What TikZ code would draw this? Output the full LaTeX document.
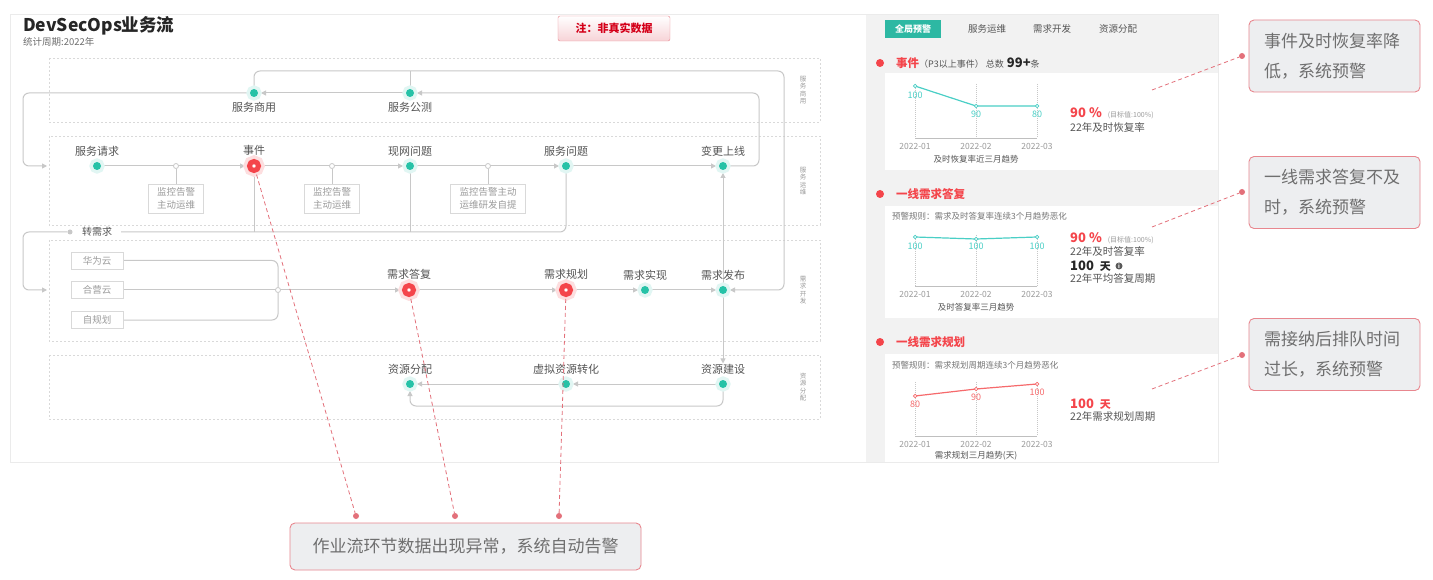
\documentclass[tikz,border=0pt]{standalone}
\usepackage{fontspec}
\setmainfont{Noto Sans CJK SC}
\usetikzlibrary{positioning,arrows.meta,backgrounds}

\definecolor{flowteal}{HTML}{26C2A7}
\definecolor{alarm}{HTML}{F4454B}
\definecolor{wire}{HTML}{C8C8C8}
\definecolor{lanec}{HTML}{D9D9D9}
\definecolor{txt}{HTML}{555555}
\definecolor{soft}{HTML}{9B9B9B}
\definecolor{panel}{HTML}{F2F2F2}
\definecolor{warnedge}{HTML}{E8878F}
\definecolor{warnfill}{HTML}{EDEEF0}
\definecolor{warntext}{HTML}{6F6F6F}
\definecolor{pinred}{HTML}{E3707A}
\definecolor{lineteal}{HTML}{4ACFC6}
\definecolor{linered}{HTML}{F66A6C}
\definecolor{tabteal}{HTML}{2DB8A3}
\definecolor{notered}{HTML}{D40019}
\definecolor{notepink}{HTML}{F7D3D7}

\begin{document}
\begin{tikzpicture}[x=1pt,y=-1pt]
    \newcommand{\fsz}[2]{\fontsize{#1}{#2}\selectfont}
    \newcommand{\hot}[1]{\textcolor{alarm}{#1}}

    \tikzstyle{lane}=[draw=lanec, dash pattern=on 2pt off 2pt, line width=0.6pt]
    \tikzstyle{lanetag}=[font=\fsz{6.5}{7.5}, text=soft, align=center, inner sep=0pt]
    \tikzstyle{dot}=[
      circle,
      inner sep=0pt,
      minimum size=8pt,
      outer sep=3pt,
      fill=flowteal,
      preaction={draw=flowteal!14, line width=7pt},
    ]
    \tikzstyle{alarmdot}=[
      circle,
      inner sep=0pt,
      minimum size=9pt,
      outer sep=4.5pt,
      fill=white,
      draw=alarm,
      line width=5pt,
      preaction={draw=alarm!18, line width=12pt},
    ]
    \tikzstyle{lbl}=[font=\fsz{11}{11}, text=txt, inner sep=1pt]
    \tikzstyle{note}=[
      draw=lanec,
      fill=white,
      font=\fsz{9.5}{12.5},
      text=soft,
      align=center,
      minimum width=55pt,
      minimum height=29pt,
      inner sep=2pt,
      line width=0.6pt,
    ]
    \tikzstyle{src}=[draw=lanec, fill=white, font=\fsz{9.5}{9.5}, text=soft,
      minimum width=52pt, minimum height=17pt, inner sep=0pt, line width=0.6pt]
    \tikzstyle{joint}=[circle, fill=white, draw=wire, line width=0.8pt, inner sep=0pt, minimum size=5pt]
    \tikzstyle{tinydot}=[circle, fill=wire, inner sep=0pt, minimum size=5pt]
    \tikzstyle{flow}=[draw=wire, line width=1pt, rounded corners=6pt, -{Triangle[width=5pt,length=5pt]}]
    \tikzstyle{wirel}=[draw=wire, line width=1pt, rounded corners=6pt]
    \tikzstyle{pinline}=[draw=pinred, line width=0.8pt, dash pattern=on 4pt off 3pt]
    \tikzstyle{pinpt}=[circle, fill=pinred, inner sep=0pt, minimum size=6pt]
    \tikzstyle{warnbox}=[draw=warnedge, fill=warnfill, rounded corners=5pt, line width=0.9pt,
      text=warntext, font=\fsz{17}{30}]

    % right panel
    \tikzstyle{tabtxt}=[font=\fsz{9.5}{9.5}, text=txt]
    \tikzstyle{hdot}=[circle, fill=alarm, inner sep=0pt, minimum size=8pt]
    \tikzstyle{sechead}=[anchor=west, inner sep=0pt, font=\fsz{11.5}{11.5}\bfseries, text=alarm]
    \tikzstyle{rulet}=[anchor=west, inner sep=0pt, font=\fsz{8.5}{8.5}, text=txt!80]
    \tikzstyle{gridl}=[draw=black!22, dash pattern=on 1pt off 1pt, line width=0.6pt]
    \tikzstyle{axisl}=[draw=black!25, line width=0.8pt]
    \tikzstyle{axlbl}=[font=\fsz{8.5}{8.5}, text=black!40]
    \tikzstyle{capt}=[font=\fsz{8.5}{8.5}, text=txt]
    \tikzstyle{mk}=[circle, fill=white, inner sep=0pt, minimum size=3.5pt, line width=0.7pt]
    \tikzstyle{val}=[font=\fsz{9}{9}]
    \tikzstyle{bigt}=[anchor=west, inner sep=0pt]
    \tikzstyle{subt}=[anchor=west, inner sep=0pt, font=\fsz{10.5}{10.5}, text=txt]

    \useasboundingbox (0,0) rectangle (1433,580);

    \begin{scope}[on background layer]
      \fill[white] (0,0) rectangle (1433,580);
      \fill[panel] (866,14) rectangle (1218,462);
      \draw[black!8, line width=0.6pt] (10,14) rectangle (1218,462);
      \fill[white] (885,73) rectangle (1218,170);
      \fill[white] (885,206) rectangle (1218,318);
      \fill[white] (885,354) rectangle (1218,462);
      \draw[lane] (49,58) rectangle (820,122);
      \draw[lane] (49,136) rectangle (820,225);
      \draw[lane] (49,240) rectangle (820,341);
      \draw[lane] (49,355) rectangle (820,419);
    \end{scope}

    % title
    \node[anchor=west, inner sep=0pt, font=\fsz{17.5}{17.5}\bfseries, text=black!85] (title) at (23,26) {DevSecOps业务流};
    \node[anchor=west, inner sep=0pt, font=\fsz{9.5}{9.5}, text=txt!85] (period) at (23,42) {统计周期:2022年};
    \node[draw=warnedge, top color=white, bottom color=notepink, rounded corners=2pt,
      minimum width=112pt, minimum height=25pt, font=\fsz{11}{11}\bfseries, text=notered] (fake) at (614,28.5) {注：非真实数据};

    % lane tags
    \node[lanetag] (lt1) at (803,90) {服\\务\\商\\用};
    \node[lanetag] (lt2) at (803,181) {服\\务\\运\\维};
    \node[lanetag] (lt3) at (803,290) {需\\求\\开\\发};
    \node[lanetag] (lt4) at (803,387) {资\\源\\分\\配};

    % lane 1
    \node[dot] (sy) at (254,93) {};
    \node[dot] (gc) at (410,93) {};
    \node[lbl, below=1pt of sy] (syl) {服务商用};
    \node[lbl, below=1pt of gc] (gcl) {服务公测};

    % lane 2
    \node[dot] (qq) at (97,166) {};
    \node[alarmdot] (sj) at (254,166) {};
    \node[dot] (xw) at (410,166) {};
    \node[dot] (fw) at (566,166) {};
    \node[dot] (bx) at (723,166) {};
    \node[lbl, above=1pt of qq] (qql) {服务请求};
    \node[lbl, above=0pt of sj] (sjl) {事件};
    \node[lbl, above=1pt of xw] (xwl) {现网问题};
    \node[lbl, above=1pt of fw] (fwl) {服务问题};
    \node[lbl, above=1pt of bx] (bxl) {变更上线};

    \node[joint] (j1) at (176,166) {};
    \node[joint] (j2) at (332,166) {};
    \node[joint] (j3) at (488,166) {};
    \node[note] (m1) at (176,198.5) {监控告警\\主动运维};
    \node[note] (m2) at (332,198.5) {监控告警\\主动运维};
    \node[note, minimum width=75pt] (m3) at (488,198.5) {监控告警主动\\运维研发自提};

    \node[lbl, font=\fsz{10}{10}, inner xsep=9pt] (zx) at (97,232) {转需求};
    \node[tinydot] (zxd) at (70,232) {};

    % lane 3
    \node[src] (hw) at (97,260.5) {华为云};
    \node[src] (hy) at (97,290) {合营云};
    \node[src] (zg) at (97,320) {自规划};
    \node[joint] (j4) at (278,290) {};
    \node[alarmdot] (df) at (409,290) {};
    \node[alarmdot] (gh) at (566,290) {};
    \node[dot] (sx) at (645,290) {};
    \node[dot] (fb) at (723,290) {};
    \node[lbl, above=0pt of df] (dfl) {需求答复};
    \node[lbl, above=0pt of gh] (ghl) {需求规划};
    \node[lbl, above=1pt of sx] (sxl) {需求实现};
    \node[lbl, above=1pt of fb] (fbl) {需求发布};

    % lane 4
    \node[dot] (fp) at (410,384) {};
    \node[dot] (xn) at (566,384) {};
    \node[dot] (js) at (723,384) {};
    \node[lbl, above=1pt of fp] (fpl) {资源分配};
    \node[lbl, above=1pt of xn] (xnl) {虚拟资源转化};
    \node[lbl, above=1pt of js] (jsl) {资源建设};

    \coordinate (in2) at (47,166);
    \coordinate (in3) at (47,290);
    \coordinate (top) at (0,71);

    \begin{scope}[on background layer]
      \draw[flow] (gc) -- (sy);
      \draw[flow] (sy) -- (23,93) |- (in2);
      \draw[flow] (sy) -- (sy |- top) -- (784,71) |- (fb);
      \draw[wirel] (gc) -- (gc |- top);
      \draw[flow] (bx) -- ++(36,0) |- (gc);
      \draw[flow] (qq) -- (sj);
      \draw[flow] (sj) -- (xw);
      \draw[flow] (xw) -- (fw);
      \draw[flow] (fw) -- (bx);
      \draw[wirel] (j1) -- (m1);
      \draw[wirel] (j2) -- (m2);
      \draw[wirel] (j3) -- (m3);
      \draw[wirel] (sj) -- (sj |- zx);
      \draw[wirel] (xw) -- (xw |- zx);
      \draw[wirel] (fw) |- (zx);
      \draw[flow] (zxd) -- (23,232) |- (in3);
      \draw[wirel] (hw) -| (j4);
      \draw[wirel] (zg) -| (j4);
      \draw[flow] (hy) -- (df);
      \draw[flow] (df) -- (gh);
      \draw[flow] (gh) -- (sx);
      \draw[flow] (sx) -- (fb);
      \draw[flow] (fb) -- (bx);
      \draw[flow] (fb) -- (jsl);
      \draw[flow] (js) -- (xn);
      \draw[flow] (xn) -- (fp);
      \draw[flow] (js) -- ++(0,22) -| (fp);
    \end{scope}

    % bottom callout
    \node[warnbox, minimum width=351pt, minimum height=47pt] (cb) at (465.5,546.5) {作业流环节数据出现异常，系统自动告警};
    \node[pinpt] (d1) at (356,516) {};
    \node[pinpt] (d2) at (455,516) {};
    \node[pinpt] (d3) at (559,516) {};
    \draw[pinline] (sj) -- (d1);
    \draw[pinline] (df) -- (d2);
    \draw[pinline] (gh) -- (d3);

    % right panel
    \node[fill=tabteal, text=white, font=\fsz{9}{9}\bfseries, minimum width=56pt, minimum height=18pt, inner sep=0pt] (tab1) at (913,29) {全局预警};
    \node[tabtxt] (tab2) at (987,29) {服务运维};
    \node[tabtxt] (tab3) at (1052,29) {需求开发};
    \node[tabtxt] (tab4) at (1118,29) {资源分配};

    \node[hdot] (hd1) at (880,63) {};
    \node[sechead] (hs1) at (896,63) {事件\mdseries\fsz{9}{9}\color{txt}（P3以上事件） 总数\hspace{3pt}{\bfseries\fsz{13}{13}\color{black!85}99+}条};
    \node[hdot] (hd2) at (880,194) {};
    \node[sechead] (hs2) at (896,194) {一线需求答复};
    \node[hdot] (hd3) at (880,342) {};
    \node[sechead] (hs3) at (896,342) {一线需求规划};
    \node[rulet] (ru2) at (892,216) {预警规则：需求及时答复率连续3个月趋势恶化};
    \node[rulet] (ru3) at (892,365) {预警规则：需求规划周期连续3个月趋势恶化};

    \foreach \ay/\gt [count=\k] in {138/84, 286/235, 436/382} {
      \foreach \x/\lab in {915/2022-01, 976/2022-02, 1037/2022-03} {
        \draw[gridl] (\x,\gt) -- (\x,\ay);
        \node[axlbl] (ax\k-\x) at (\x,\ay+8) {\lab};
      }
      \draw[axisl] (915,\ay) -- (1037,\ay);
    }
    \node[capt] (cap1) at (976,159) {及时恢复率近三月趋势};
    \node[capt] (cap2) at (976,307) {及时答复率三月趋势};
    \node[capt] (cap3) at (976,456) {需求规划三月趋势(天)};

    \draw[lineteal, line width=1.2pt] (915,86) -- (976,106) -- (1037,106);
    \foreach \x/\y/\v/\ly in {915/86/100/95, 976/106/90/114, 1037/106/80/114} {
      \node[mk, draw=lineteal] (pa\x) at (\x,\y) {};
      \node[val, text=lineteal] (va\x) at (\x,\ly) {\v};
    }
    \draw[lineteal, line width=1.2pt] (915,237) -- (976,239) -- (1037,237);
    \foreach \x/\y/\v/\ly in {915/237/100/246, 976/239/100/246, 1037/237/100/246} {
      \node[mk, draw=lineteal] (pb\x) at (\x,\y) {};
      \node[val, text=lineteal] (vb\x) at (\x,\ly) {\v};
    }
    \draw[linered, line width=1.2pt] (915,396) -- (976,389) -- (1037,384);
    \foreach \x/\y/\v/\ly in {915/396/80/404, 976/389/90/397, 1037/384/100/392} {
      \node[mk, draw=linered] (pc\x) at (\x,\y) {};
      \node[val, text=linered] (vc\x) at (\x,\ly) {\v};
    }

    \node[bigt] (v1) at (1070,113) {\hot{\bfseries\fsz{13}{13}90 \%}\hspace{6pt}{\fsz{7}{7}\color{soft}(目标值:100\%)}};
    \node[subt] (v1s) at (1070,127) {22年及时恢复率};
    \node[bigt] (v2) at (1070,238) {\hot{\bfseries\fsz{13}{13}90 \%}\hspace{6pt}{\fsz{7}{7}\color{soft}(目标值:100\%)}};
    \node[subt] (v2s) at (1070,251) {22年及时答复率};
    \node[bigt] (v2d) at (1070,266) {{\bfseries\fsz{13}{13}\color{black!85}100}\hspace{6pt}{\bfseries\fsz{11}{11}\color{black!85}天}};
    \node[circle, fill=black!65, text=white, inner sep=0pt, minimum size=7pt, font=\fsz{5.5}{5.5}\bfseries] (info) at (1119,266) {i};
    \node[subt] (v2e) at (1070,279) {22年平均答复周期};
    \node[bigt] (v3) at (1070,404) {\hot{\bfseries\fsz{13}{13}100\hspace{6pt}\fsz{11}{11}天}};
    \node[subt] (v3s) at (1070,417) {22年需求规划周期};

    % right callouts
    \node[warnbox, text width=141pt, align=left, minimum height=72pt, inner xsep=15pt] (c1) at (1334.5,56) {事件及时恢复率降\\低，系统预警};
    \node[warnbox, text width=141pt, align=left, minimum height=72pt, inner xsep=15pt] (c2) at (1334.5,192.5) {一线需求答复不及\\时，系统预警};
    \node[warnbox, text width=141pt, align=left, minimum height=72pt, inner xsep=15pt] (c3) at (1334.5,354.5) {需接纳后排队时间\\过长，系统预警};
    \node[pinpt] (p1) at (1242,56) {};
    \node[pinpt] (p2) at (1242,192) {};
    \node[pinpt] (p3) at (1242,355) {};
    \coordinate (e1) at (1152,90);
    \coordinate (e2) at (1152,227);
    \coordinate (e3) at (1152,389);
    \draw[pinline] (e1) -- (p1);
    \draw[pinline] (e2) -- (p2);
    \draw[pinline] (e3) -- (p3);
  \end{tikzpicture}
\end{document}
